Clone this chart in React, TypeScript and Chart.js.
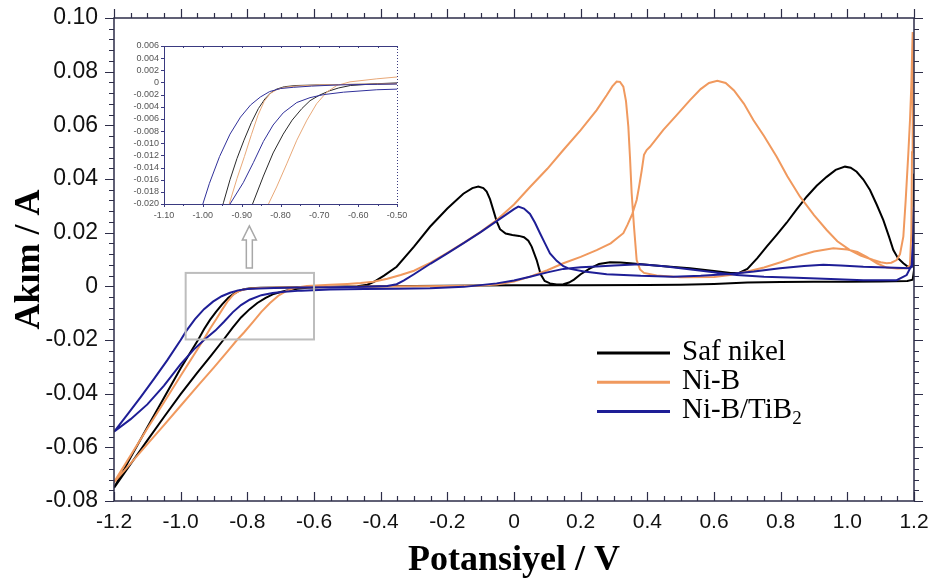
import React, { useEffect, useRef } from 'react';
import { Chart, registerables } from 'chart.js';

Chart.register(...registerables);

// ---------- data: [potential (V), current (A)] along each closed CV loop ----------
const safNikel: [number, number][] = [
  [-1.2, -0.0751], [-1.15, -0.0662], [-1.1, -0.0574], [-1.05, -0.0487], [-1.0, -0.0402], [-0.95, -0.0322],
  [-0.91, -0.026], [-0.872, -0.02], [-0.844, -0.0154], [-0.819, -0.0116], [-0.793, -0.0085], [-0.77, -0.0062],
  [-0.745, -0.0043], [-0.724, -0.003], [-0.7, -0.0021], [-0.675, -0.0014], [-0.65, -0.0009], [-0.62, -0.0005],
  [-0.55, -0.0002], [-0.47, 0.0], [-0.44, 0.0006], [-0.42, 0.0017], [-0.39, 0.004], [-0.352, 0.0073],
  [-0.3, 0.0148], [-0.252, 0.0222], [-0.2, 0.029], [-0.152, 0.0345], [-0.125, 0.0366], [-0.107, 0.0372],
  [-0.092, 0.0366], [-0.082, 0.0353], [-0.072, 0.0325], [-0.062, 0.0284], [-0.052, 0.0242], [-0.042, 0.0213],
  [-0.025, 0.0197], [-0.005, 0.0191], [0.015, 0.0188], [0.03, 0.0183], [0.043, 0.017], [0.053, 0.0148],
  [0.068, 0.0098], [0.08, 0.0045], [0.092, 0.002], [0.108, 0.0011], [0.128, 0.0007], [0.148, 0.0008],
  [0.165, 0.0014], [0.18, 0.0025], [0.2, 0.0045], [0.228, 0.0067], [0.255, 0.0083], [0.288, 0.009],
  [0.32, 0.0089], [0.348, 0.0086], [0.45, 0.0075], [0.528, 0.0067], [0.6, 0.0057], [0.65, 0.005],
  [0.675, 0.005], [0.7, 0.0065], [0.73, 0.0105], [0.758, 0.0148], [0.788, 0.0192], [0.818, 0.0237],
  [0.848, 0.0287], [0.878, 0.0334], [0.908, 0.0375], [0.938, 0.0408], [0.965, 0.0434], [0.993, 0.0446],
  [1.01, 0.0442], [1.028, 0.0427], [1.048, 0.0398], [1.068, 0.0359], [1.088, 0.0305], [1.108, 0.0247],
  [1.125, 0.0185], [1.138, 0.0135], [1.152, 0.0105], [1.168, 0.0086], [1.185, 0.007], [1.195, 0.0075],
  [1.198, 0.02], [1.2, 0.042],
  [1.2, 0.006], [1.196, 0.0025], [1.18, 0.002], [1.1, 0.0018], [1.0, 0.0017], [0.9, 0.0017], [0.8, 0.0016],
  [0.7, 0.0014], [0.6, 0.0009], [0.5, 0.0006], [0.4, 0.0005], [0.2, 0.0004], [0.0, 0.0004], [-0.2, 0.0002],
  [-0.4, 0.0], [-0.5, -0.0002], [-0.6, -0.0003], [-0.7, -0.0004], [-0.76, -0.0005], [-0.79, -0.0007],
  [-0.81, -0.0011], [-0.825, -0.0017], [-0.84, -0.0027], [-0.857, -0.0043], [-0.875, -0.0066],
  [-0.894, -0.0095], [-0.912, -0.0125], [-0.93, -0.016], [-0.947, -0.0198], [-1.0, -0.0305],
  [-1.05, -0.0415], [-1.1, -0.0525], [-1.15, -0.0637], [-1.2, -0.0751],
];

const niB: [number, number][] = [
  [-1.2, -0.073], [-1.15, -0.066], [-1.1, -0.0588], [-1.05, -0.0517], [-1.0, -0.0445], [-0.95, -0.0373],
  [-0.9, -0.0302], [-0.86, -0.0243], [-0.831, -0.02], [-0.81, -0.0172], [-0.784, -0.0134], [-0.758, -0.0095],
  [-0.732, -0.0062], [-0.707, -0.0035], [-0.681, -0.0016], [-0.655, -0.0005], [-0.621, 0.0001],
  [-0.552, 0.0006], [-0.5, 0.0009], [-0.46, 0.0012], [-0.422, 0.0017], [-0.38, 0.0028], [-0.34, 0.0042],
  [-0.3, 0.0058], [-0.25, 0.0088], [-0.2, 0.0125], [-0.15, 0.0163], [-0.1, 0.0203], [-0.052, 0.0247],
  [0.0, 0.0305], [0.048, 0.037], [0.1, 0.0438], [0.148, 0.0508], [0.2, 0.0582], [0.248, 0.0657],
  [0.278, 0.0712], [0.295, 0.0745], [0.308, 0.0763], [0.318, 0.0762], [0.328, 0.0744], [0.336, 0.069],
  [0.343, 0.0595], [0.348, 0.048], [0.353, 0.0347], [0.36, 0.0222], [0.368, 0.0098], [0.378, 0.0063],
  [0.39, 0.005], [0.428, 0.004], [0.5, 0.0034], [0.6, 0.0035], [0.648, 0.0042], [0.7, 0.0055], [0.75, 0.007],
  [0.8, 0.009], [0.85, 0.0112], [0.9, 0.013], [0.958, 0.0142], [1.0, 0.0137], [1.03, 0.0128], [1.058, 0.011],
  [1.09, 0.0085], [1.118, 0.007], [1.15, 0.0066], [1.178, 0.0067], [1.188, 0.008], [1.192, 0.02],
  [1.194, 0.05], [1.196, 0.0948],
  [1.192, 0.075], [1.188, 0.062], [1.183, 0.0496], [1.175, 0.032], [1.168, 0.0185], [1.158, 0.012],
  [1.148, 0.0098], [1.132, 0.0088], [1.118, 0.0086], [1.1, 0.009], [1.078, 0.0098], [1.04, 0.0115],
  [1.008, 0.0135], [0.97, 0.0168], [0.938, 0.021], [0.9, 0.0265], [0.858, 0.0334], [0.82, 0.041],
  [0.788, 0.0483], [0.75, 0.056], [0.718, 0.062], [0.69, 0.068], [0.66, 0.073], [0.635, 0.0758],
  [0.61, 0.0766], [0.585, 0.0758], [0.56, 0.0735], [0.528, 0.0694], [0.488, 0.0638], [0.448, 0.0583],
  [0.408, 0.052], [0.398, 0.0508], [0.39, 0.049], [0.383, 0.043], [0.375, 0.037], [0.368, 0.0322],
  [0.355, 0.027], [0.34, 0.0228], [0.328, 0.0198], [0.29, 0.016], [0.248, 0.0135], [0.2, 0.011],
  [0.148, 0.0086], [0.1, 0.006], [0.048, 0.0036], [0.0, 0.0018], [-0.052, 0.0007], [-0.1, 0.0003],
  [-0.2, 0.0001], [-0.3, 0.0], [-0.4, -0.0001], [-0.5, -0.0002], [-0.6, -0.0003], [-0.7, -0.0004],
  [-0.76, -0.0006], [-0.79, -0.0008], [-0.81, -0.0012], [-0.826, -0.0018], [-0.842, -0.0031],
  [-0.858, -0.0054], [-0.875, -0.0086], [-0.893, -0.0122], [-0.912, -0.0158], [-0.932, -0.02],
  [-0.96, -0.0255], [-1.0, -0.0333], [-1.05, -0.0432], [-1.1, -0.053], [-1.15, -0.063], [-1.2, -0.073],
];

const niBTiB2: [number, number][] = [
  [-1.2, -0.0542], [-1.15, -0.0495], [-1.1, -0.044], [-1.05, -0.037], [-1.0, -0.029], [-0.96, -0.0235],
  [-0.93, -0.02], [-0.896, -0.0165], [-0.87, -0.0132], [-0.844, -0.0097], [-0.819, -0.007], [-0.793, -0.005],
  [-0.758, -0.0033], [-0.724, -0.0025], [-0.689, -0.002], [-0.638, -0.0016], [-0.552, -0.0012],
  [-0.45, -0.001], [-0.35, -0.0009], [-0.252, -0.0007], [-0.15, -0.0002], [-0.052, 0.0011], [0.0, 0.0022],
  [0.048, 0.0036], [0.1, 0.0052], [0.148, 0.0065], [0.2, 0.0071], [0.248, 0.0074], [0.3, 0.0078],
  [0.378, 0.0082], [0.45, 0.0075], [0.55, 0.006], [0.668, 0.0042], [0.75, 0.0036], [0.848, 0.0032],
  [0.95, 0.0027], [1.048, 0.0023], [1.148, 0.0023], [1.178, 0.0042], [1.193, 0.0079], [1.198, 0.018],
  [1.2, 0.0297],
  [1.199, 0.012], [1.195, 0.0075], [1.188, 0.0067], [1.12, 0.007], [1.048, 0.0073], [0.98, 0.0078],
  [0.928, 0.008], [0.87, 0.0076], [0.798, 0.0067], [0.72, 0.0055], [0.648, 0.0046], [0.56, 0.0039],
  [0.478, 0.0036], [0.38, 0.0039], [0.278, 0.0045], [0.21, 0.0055], [0.165, 0.0066], [0.148, 0.0075],
  [0.128, 0.0095], [0.108, 0.0123], [0.093, 0.016], [0.078, 0.0198], [0.063, 0.0237], [0.048, 0.027],
  [0.03, 0.029], [0.013, 0.0297], [0.0, 0.0288], [-0.05, 0.0245], [-0.1, 0.0202], [-0.15, 0.0162],
  [-0.2, 0.0123], [-0.25, 0.0085], [-0.3, 0.0045], [-0.33, 0.0022], [-0.352, 0.0008], [-0.38, 0.0001],
  [-0.45, -0.0002], [-0.55, -0.0003], [-0.65, -0.0004], [-0.72, -0.0006], [-0.767, -0.0008], [-0.8, -0.001],
  [-0.828, -0.0015], [-0.852, -0.0024], [-0.877, -0.0037], [-0.903, -0.0057], [-0.93, -0.0085],
  [-0.957, -0.0122], [-0.983, -0.0166], [-1.0, -0.02], [-1.04, -0.0275], [-1.08, -0.0345], [-1.12, -0.0413],
  [-1.16, -0.0478], [-1.2, -0.0542],
];

const seriesLabels = ['Saf nikel', 'Ni-B', 'Ni-B/TiB\u2082'];
const seriesList = [safNikel, niB, niBTiB2];

// tick labels
const mainXTicks = [-1.2, -1.0, -0.8, -0.6, -0.4, -0.2, 0, 0.2, 0.4, 0.6, 0.8, 1.0, 1.2];
const mainYTicks = [-0.08, -0.06, -0.04, -0.02, 0, 0.02, 0.04, 0.06, 0.08, 0.1];
const insetXTicks = [-1.1, -1.0, -0.9, -0.8, -0.7, -0.6, -0.5];
const insetYTicks = [-0.02, -0.018, -0.016, -0.014, -0.012, -0.01, -0.008, -0.006, -0.004, -0.002, 0, 0.002, 0.004, 0.006];

// zoom box and arrow (data coordinates)
const zoomBoxX = [-0.985, -0.6];
const zoomBoxY = [-0.0198, 0.005];
const arrowX = -0.794;
const arrowY = [0.0068, 0.0225];

// ---------- styles ----------
const mainColors = ['#000000', '#F0995E', '#1E1E96'];
const insetColors = ['#2a2a2a', '#E8A878', '#30309A'];
const drawOrder = [2, 1, 0];
const frameColor = '#2d2d48';
const SANS = "'Liberation Sans', Arial, sans-serif";
const SERIF = "'Liberation Serif', 'Times New Roman', serif";

function fmt(v: number, d: number) {
  const r = Number(v.toFixed(d));
  return r === 0 ? '0' : r.toFixed(d);
}

function makeDatasets(width: number, colors: string[]) {
  return seriesList.map((s, i) => ({
    label: seriesLabels[i],
    data: s.map(([x, y]) => ({ x, y })),
    borderColor: colors[i],
    backgroundColor: colors[i],
    borderWidth: width,
    pointRadius: 0,
    showLine: true,
    fill: false,
    tension: 0,
    order: drawOrder[i],
  }));
}

const mainDecor = {
  id: 'mainDecor',
  afterDatasetsDraw(chart: any) {
    const { ctx, chartArea: a, scales } = chart;
    const x = scales.x;
    const y = scales.y;
    ctx.save();
    ctx.strokeStyle = frameColor;
    ctx.lineWidth = 1.5;
    ctx.strokeRect(a.left, a.top, a.right - a.left, a.bottom - a.top);
    ctx.lineWidth = 1.2;
    ctx.beginPath();
    for (let k = 0; k <= 48; k++) {
      const v = -1.2 + k * 0.05;
      const px = Math.round(x.getPixelForValue(v)) + 0.5;
      const len = k % 4 === 0 ? 9 : 5;
      ctx.moveTo(px, a.bottom);
      ctx.lineTo(px, a.bottom - len);
      ctx.moveTo(px, a.top);
      ctx.lineTo(px, a.top - len);
    }
    for (let k = 0; k <= 45; k++) {
      const v = -0.08 + k * 0.004;
      const py = Math.round(y.getPixelForValue(v)) + 0.5;
      const len = k % 5 === 0 ? 9 : 5;
      ctx.moveTo(a.left, py);
      ctx.lineTo(a.left - len, py);
      ctx.moveTo(a.right, py);
      ctx.lineTo(a.right + len, py);
    }
    ctx.stroke();

    // zoom box
    const bx0 = x.getPixelForValue(zoomBoxX[0]);
    const bx1 = x.getPixelForValue(zoomBoxX[1]);
    const by0 = y.getPixelForValue(zoomBoxY[1]);
    const by1 = y.getPixelForValue(zoomBoxY[0]);
    ctx.strokeStyle = '#BDBDBD';
    ctx.lineWidth = 2;
    ctx.strokeRect(bx0, by0, bx1 - bx0, by1 - by0);

    // hollow arrow
    const cx = x.getPixelForValue(arrowX);
    const base = y.getPixelForValue(arrowY[0]);
    const tip = y.getPixelForValue(arrowY[1]);
    const hh = 14, hw = 7, sw = 3;
    ctx.beginPath();
    ctx.moveTo(cx, tip);
    ctx.lineTo(cx + hw, tip + hh);
    ctx.lineTo(cx + sw, tip + hh);
    ctx.lineTo(cx + sw, base);
    ctx.lineTo(cx - sw, base);
    ctx.lineTo(cx - sw, tip + hh);
    ctx.lineTo(cx - hw, tip + hh);
    ctx.closePath();
    ctx.fillStyle = '#ffffff';
    ctx.fill();
    ctx.strokeStyle = '#A8A8A8';
    ctx.lineWidth = 1.5;
    ctx.stroke();

    // legend
    const lx0 = 597, lx1 = 670, tx = 682;
    const ly0 = 353, lstep = 29.2;
    chart.data.datasets.forEach((ds: any, i: number) => {
      const ly = ly0 + i * lstep;
      ctx.strokeStyle = ds.borderColor;
      ctx.lineWidth = 3;
      ctx.beginPath();
      ctx.moveTo(lx0, ly);
      ctx.lineTo(lx1, ly);
      ctx.stroke();
      ctx.fillStyle = '#000';
      ctx.textBaseline = 'alphabetic';
      ctx.textAlign = 'left';
      const label: string = ds.label;
      const subIdx = label.indexOf('\u2082');
      ctx.font = `29px ${SERIF}`;
      if (subIdx >= 0) {
        const main = label.slice(0, subIdx);
        ctx.fillText(main, tx, ly + 7);
        const w = ctx.measureText(main).width;
        ctx.font = `19px ${SERIF}`;
        ctx.fillText('2', tx + w, ly + 13);
      } else {
        ctx.fillText(label, tx, ly + 7);
      }
    });
    ctx.restore();
  },
};

const insetDecor = {
  id: 'insetDecor',
  afterDatasetsDraw(chart: any) {
    const { ctx, chartArea: a, scales } = chart;
    const x = scales.x;
    const y = scales.y;
    ctx.save();
    ctx.strokeStyle = '#3a3a80';
    ctx.lineWidth = 1;
    ctx.beginPath();
    ctx.moveTo(a.left + 0.5, a.top + 0.5);
    ctx.lineTo(a.left + 0.5, a.bottom + 0.5);
    ctx.lineTo(a.right + 0.5, a.bottom + 0.5);
    ctx.moveTo(a.left + 0.5, a.top + 0.5);
    ctx.lineTo(a.right + 0.5, a.top + 0.5);
    for (let k = 0; k <= 13; k++) {
      const py = Math.round(y.getPixelForValue(-0.02 + k * 0.002)) + 0.5;
      ctx.moveTo(a.left, py);
      ctx.lineTo(a.left - 3, py);
    }
    for (let k = 0; k <= 12; k++) {
      const px = Math.round(x.getPixelForValue(-1.1 + k * 0.05)) + 0.5;
      ctx.moveTo(px, a.top);
      ctx.lineTo(px, a.top + 2);
      ctx.moveTo(px, a.bottom);
      ctx.lineTo(px, a.bottom + (k % 2 === 0 ? 3 : 2));
    }
    ctx.stroke();
    ctx.setLineDash([1, 2]);
    ctx.beginPath();
    ctx.moveTo(a.right + 0.5, a.top);
    ctx.lineTo(a.right + 0.5, a.bottom);
    ctx.stroke();
    ctx.restore();
  },
};

export default function App() {
  const mainRef = useRef<HTMLCanvasElement>(null);
  const insetRef = useRef<HTMLCanvasElement>(null);

  useEffect(() => {
    const main = new Chart(mainRef.current as HTMLCanvasElement, {
      type: 'scatter',
      data: { datasets: makeDatasets(2, mainColors) as any },
      plugins: [mainDecor],
      options: {
        responsive: false,
        animation: false,
        devicePixelRatio: 1,
        layout: { padding: { top: 18, right: 24, left: 0, bottom: 0 } },
        plugins: { legend: { display: false }, tooltip: { enabled: false } },
        scales: {
          x: {
            type: 'linear',
            min: -1.2,
            max: 1.2,
            afterBuildTicks: (s: any) => { s.ticks = mainXTicks.map((v) => ({ value: v })); },
            afterFit: (s: any) => { s.height = 84; s.paddingLeft = 0; s.paddingRight = 0; },
            ticks: {
              autoSkip: false,
              maxRotation: 0,
              padding: 9,
              color: '#111',
              font: { family: SANS, size: 21 },
              callback: (v: any) => fmt(Number(v), 1),
            },
            grid: { display: false, drawTicks: false },
            border: { display: false },
            title: {
              display: true,
              text: 'Potansiyel / V',
              color: '#000',
              font: { family: SERIF, size: 36, weight: 'bold', lineHeight: 1 },
              padding: { top: 0, bottom: 6 },
            },
          },
          y: {
            type: 'linear',
            min: -0.08,
            max: 0.1,
            afterBuildTicks: (s: any) => { s.ticks = mainYTicks.map((v) => ({ value: v })); },
            afterFit: (s: any) => { s.width = 114; s.paddingTop = 0; s.paddingBottom = 0; },
            ticks: {
              autoSkip: false,
              padding: 16,
              color: '#111',
              font: { family: SANS, size: 23 },
              callback: (v: any) => fmt(Number(v), 2),
            },
            grid: { display: false, drawTicks: false },
            border: { display: false },
            title: {
              display: true,
              text: 'Akım / A',
              color: '#000',
              font: { family: SERIF, size: 36, weight: 'bold', lineHeight: 1 },
              padding: { top: 12, bottom: 0 },
            },
          },
        },
      } as any,
    });

    const inset = new Chart(insetRef.current as HTMLCanvasElement, {
      type: 'scatter',
      data: { datasets: makeDatasets(1, insetColors) as any },
      plugins: [insetDecor],
      options: {
        responsive: false,
        animation: false,
        devicePixelRatio: 1,
        layout: { padding: { top: 16, right: 13, left: 0, bottom: 0 } },
        plugins: { legend: { display: false }, tooltip: { enabled: false } },
        scales: {
          x: {
            type: 'linear',
            min: -1.1,
            max: -0.5,
            afterBuildTicks: (s: any) => { s.ticks = insetXTicks.map((v) => ({ value: v })); },
            afterFit: (s: any) => { s.height = 26; s.paddingLeft = 0; s.paddingRight = 0; },
            ticks: {
              autoSkip: false,
              maxRotation: 0,
              padding: 6,
              color: '#555',
              font: { family: SANS, size: 9 },
              callback: (v: any) => fmt(Number(v), 2),
            },
            grid: { display: false, drawTicks: false },
            border: { display: false },
          },
          y: {
            type: 'linear',
            min: -0.02,
            max: 0.006,
            afterBuildTicks: (s: any) => { s.ticks = insetYTicks.map((v) => ({ value: v })); },
            afterFit: (s: any) => { s.width = 54; s.paddingTop = 0; s.paddingBottom = 0; },
            ticks: {
              autoSkip: false,
              padding: 5,
              color: '#555',
              font: { family: SANS, size: 9 },
              callback: (v: any) => fmt(Number(v), 3),
            },
            grid: { display: false, drawTicks: false },
            border: { display: false },
          },
        },
      } as any,
    });

    return () => {
      main.destroy();
      inset.destroy();
    };
  }, []);

  return (
    <div style={{ position: 'absolute', left: 0, top: 0, width: 938, height: 585, background: '#ffffff' }}>
      <canvas ref={mainRef} width={938} height={585} style={{ position: 'absolute', left: 0, top: 0, width: 938, height: 585 }} />
      <canvas ref={insetRef} width={300} height={200} style={{ position: 'absolute', left: 110, top: 30, width: 300, height: 200 }} />
    </div>
  );
}
